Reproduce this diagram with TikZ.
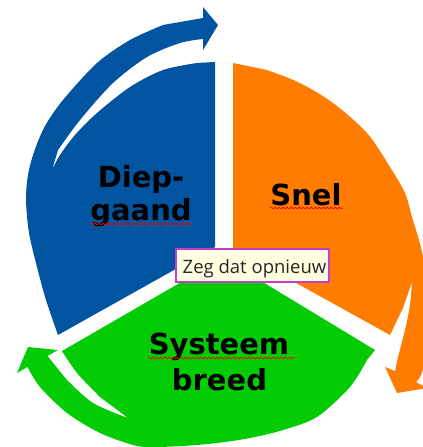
\documentclass[tikz,border=0pt]{standalone}
\usepackage{fontspec}
\setmainfont{DejaVu Sans}
\newfontfamily\tipfont{Open Sans}
\usetikzlibrary{decorations.pathmorphing}
\definecolor{segblue}{RGB}{0,84,160}
\definecolor{segorange}{RGB}{255,124,0}
\definecolor{seggreen}{RGB}{4,204,4}
\definecolor{tipfill}{RGB}{255,255,225}
\definecolor{tipborder}{RGB}{200,60,200}
\begin{document}
\begin{tikzpicture}[x=0.6pt,y=-0.6pt,
  bigtext/.style={font=\fontsize{17.4pt}{20pt}\selectfont\bfseries, text=black, inner sep=0pt, anchor=base},
  squiggle/.style={red, line width=0.4pt, decorate, decoration={snake, segment length=2.4pt, amplitude=0.5pt}},
  tooltip/.style={draw=tipborder, fill=tipfill, line width=0.7pt, minimum width=91.8pt, minimum height=19.8pt, inner sep=0pt},
  tiplabel/.style={font=\tipfont\fontsize{11.1pt}{13pt}\selectfont, text=black!85, inner sep=0pt, anchor=base}
]
\useasboundingbox (0,0) rectangle (423,447);
\begin{scope}
\clip (0,0) rectangle (423,447);
% blue segment with arrow
\fill[segblue] (215,247) -- (215,62)
  -- plot[smooth] coordinates {(197,63) (163,70) (130,87) (97,113) (75,135) (60,155) (52,170)}
  -- plot[smooth] coordinates {(58,150) (80,120) (113,83) (147,57) (180,43) (203,39)}
  -- (203,50) -- (218,25) -- (203,7) -- (203,18)
  -- plot[smooth] coordinates {(163,25) (130,40) (97,63) (63,100) (45,126) (34,152) (28,175) (26,200) (29,233) (37,267) (46,300) (58,335)}
  -- cycle;
% orange segment with arrow
\fill[segorange] (233,248) -- (233,63)
  -- plot[smooth] coordinates {(267,70) (300,83) (333,103) (367,133) (390,167) (405,193) (412,217) (419,240) (425,265) (430,295) (431,325) (428,352) (421,375) (416,382)}
  -- (427,388) -- (397,393) -- (385,367) -- (395,371)
  -- plot[smooth] coordinates {(398,357) (405,330) (410,305) (412,282)}
  -- plot[smooth] coordinates {(403,308) (390,335)}
  -- cycle;
% green segment with arrow
\fill[seggreen] (223,258) -- (375,350)
  -- plot[smooth] coordinates {(367,360) (350,387) (317,417) (283,430) (250,438) (217,443) (183,446) (150,447) (133,445) (100,433) (67,413) (40,387) (27.5,367)}
  -- (17,373) -- (28,347) -- (58,350) -- (47.5,356)
  -- plot[smooth] coordinates {(67,380) (93,403) (128,418)}
  -- plot[smooth] coordinates {(100,397) (77,373) (62,351)}
  -- cycle;
\end{scope}
% labels
\node[bigtext] (diep) at (141,187) {Diep-};
\node[bigtext] (gaand) at (141,220) {gaand};
\node[bigtext] (snel) at (306,205) {Snel};
\node[bigtext] (systeem) at (219,354) {Systeem};
\node[bigtext] (breed) at (219.5,390) {breed};
\draw[squiggle] (90,224) -- (193,224);
\draw[squiggle] (270,208) -- (343,208);
\draw[squiggle] (148,358) -- (295,358);
% tooltip
\node[tooltip] (tip) at (252.5,265.5) {};
\node[tiplabel] (tiptext) at (254.5,273) {Zeg dat opnieuw};
\end{tikzpicture}
\end{document}
